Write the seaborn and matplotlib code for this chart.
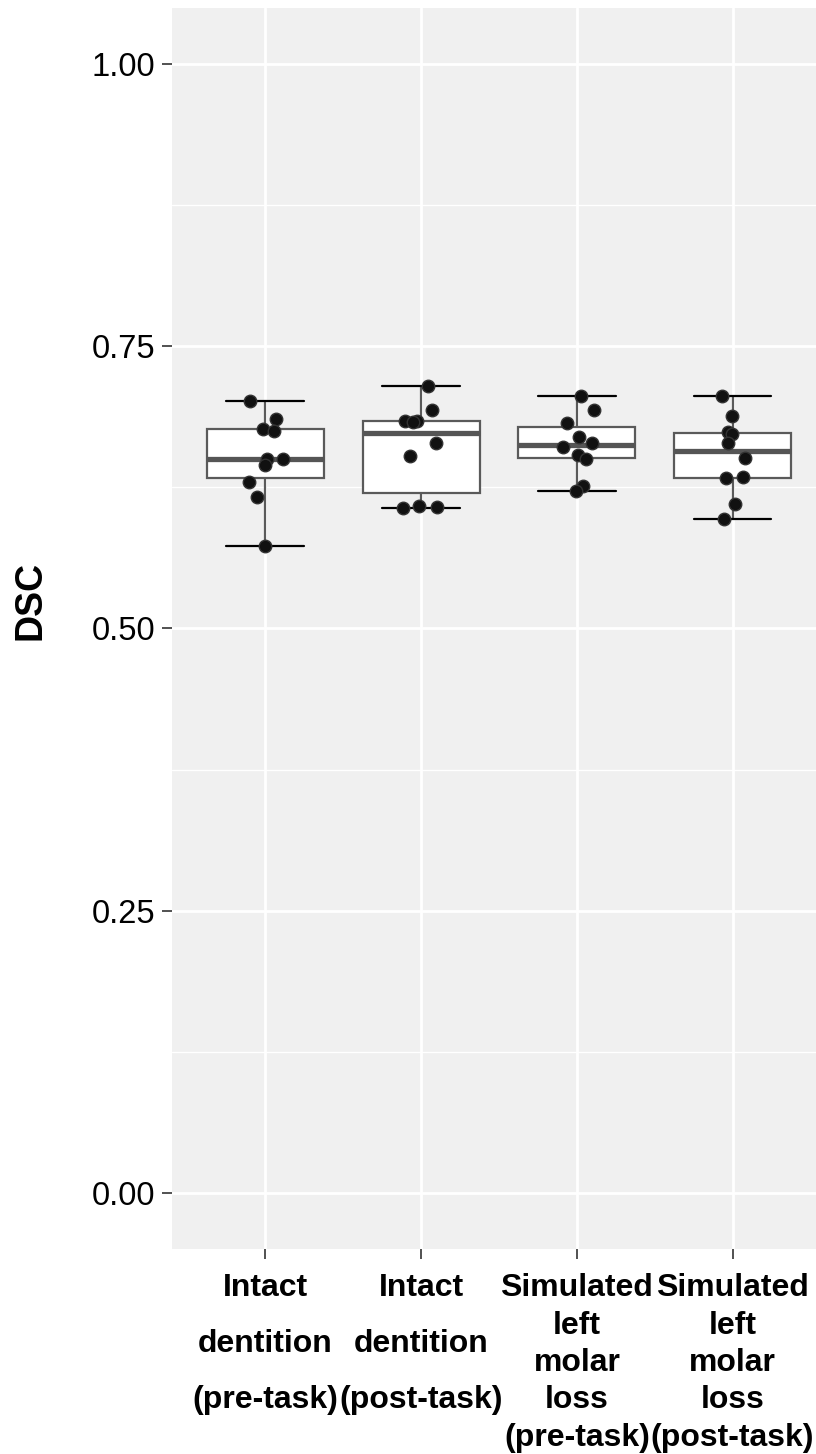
import numpy as np
import pandas as pd
import matplotlib
matplotlib.use("Agg")
import matplotlib.pyplot as plt
import seaborn as sns
from matplotlib.ticker import MultipleLocator, FormatStrFormatter

# DSC values per condition
groups = [
    "Intact\ndentition\n(pre-task)",
    "Intact\ndentition\n(post-task)",
    "Simulated\nleft\nmolar\nloss\n(pre-task)",
    "Simulated\nleft\nmolar\nloss\n(post-task)",
]
intact_pre = [0.702, 0.686, 0.677, 0.675, 0.650, 0.650, 0.645, 0.630, 0.617, 0.573]
intact_post = [0.715, 0.694, 0.684, 0.684, 0.683, 0.664, 0.653, 0.609, 0.608, 0.607]
molar_pre = [0.706, 0.694, 0.682, 0.670, 0.664, 0.661, 0.654, 0.650, 0.626, 0.622]
molar_post = [0.706, 0.688, 0.674, 0.672, 0.664, 0.651, 0.634, 0.633, 0.610, 0.597]
y_ticks = [0.00, 0.25, 0.50, 0.75, 1.00]

df = pd.DataFrame({
    "group": np.repeat(groups, 10),
    "dsc": intact_pre + intact_post + molar_pre + molar_post,
})

sns.set_style("white")
plt.rcParams["font.family"] = ["Liberation Sans", "DejaVu Sans"]

fig = plt.figure(figsize=(8.16, 14.54), dpi=100)
ax = fig.add_axes([172 / 816, (1454 - 1249) / 1454, (816 - 172) / 816, (1249 - 8) / 1454])
ax.set_facecolor("#f0f0f0")

sns.boxplot(data=df, x="group", y="dsc", order=groups, ax=ax,
            width=0.75, whis=1.5, showfliers=False, color="white",
            linecolor="#5a5a5a", linewidth=1.6, capwidths=0.5,
            medianprops=dict(linewidth=3.8, color="#555555"),
            capprops=dict(color="black", linewidth=1.6),
            zorder=2)

np.random.seed(7)
sns.stripplot(data=df, x="group", y="dsc", order=groups, ax=ax,
              color="#111111", size=9, jitter=0.12, linewidth=1.0,
              edgecolor="#333333", zorder=3)

ax.set_xlim(-0.6, 3.536)
ax.set_ylim(-0.05, 1.05)
ax.set_yticks(y_ticks)
ax.yaxis.set_major_formatter(FormatStrFormatter("%.2f"))
ax.yaxis.set_minor_locator(MultipleLocator(0.125))

ax.grid(which="major", color="white", linewidth=2.0)
ax.grid(which="minor", axis="y", color="white", linewidth=1.0)
ax.set_axisbelow(True)
for s in ax.spines.values():
    s.set_visible(False)

ax.tick_params(axis="y", which="major", length=7, width=1.2, color="#333333",
               labelsize=23.5, pad=5, labelcolor="black", left=True)
ax.tick_params(axis="y", which="minor", length=0)
ax.tick_params(axis="x", length=7, width=1.2, color="#333333",
               labelsize=23, pad=10.5, labelcolor="black", bottom=True)

for lab in ax.get_xticklabels():
    lab.set_fontweight("bold")
    lab.set_verticalalignment("top")
    if lab.get_text().count("\n") == 2:
        lab.set_linespacing(2.12)
    else:
        lab.set_linespacing(1.32)

ax.set_xlabel("")
ax.set_ylabel("")
fig.text(31 / 816, 1 - 600 / 1454, "DSC", rotation=90, ha="center", va="center",
         fontsize=27, fontweight="bold", color="black")

fig.savefig("out.png", dpi=100)
